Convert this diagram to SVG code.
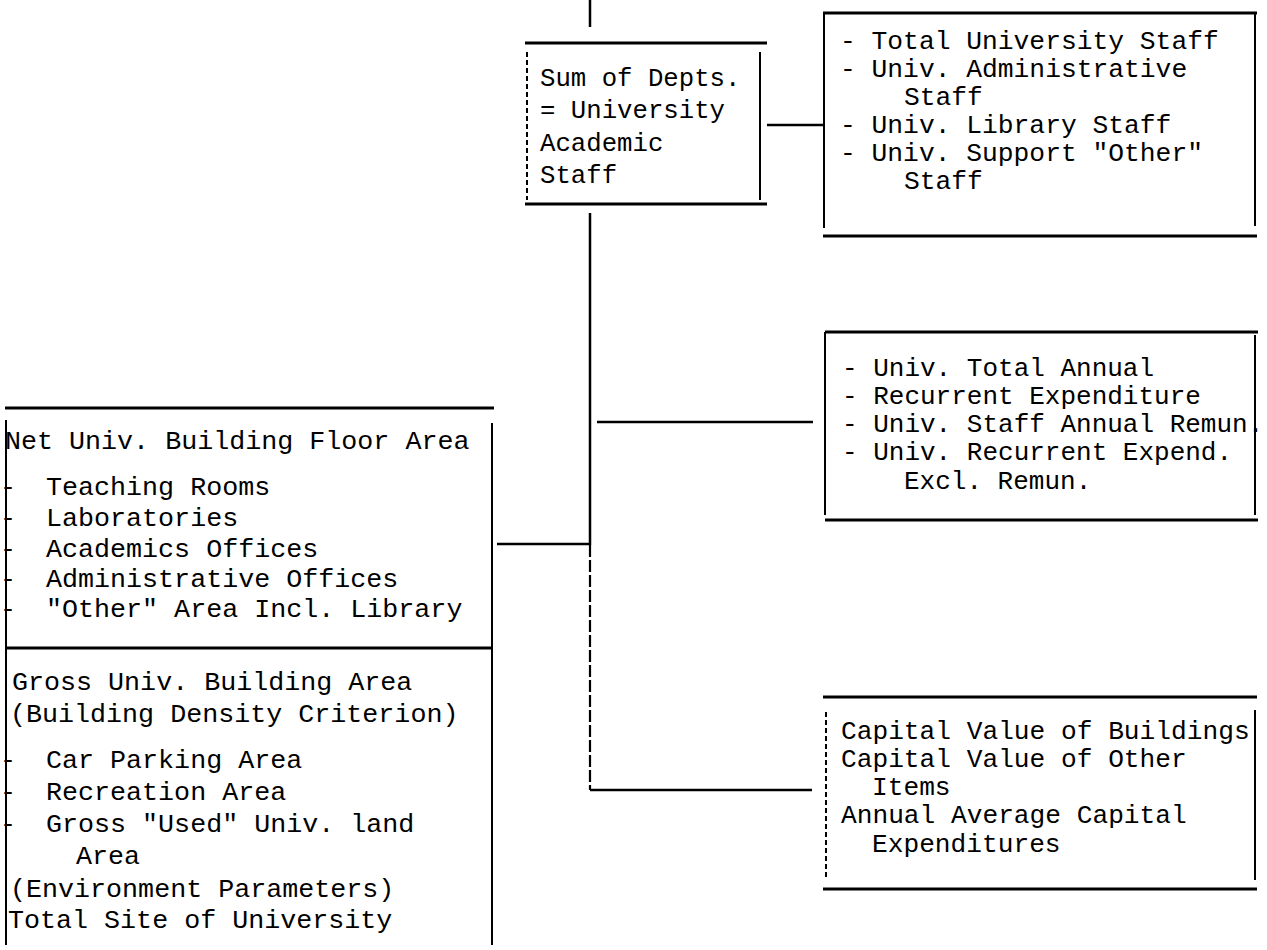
<svg xmlns="http://www.w3.org/2000/svg" width="1267" height="950" viewBox="0 0 1267 950">
<style>
  .bg{fill:#fff}
  .h{stroke:#000;stroke-width:3;fill:none;stroke-linecap:butt}
  .v{stroke:#000;stroke-width:2;fill:none}
  .d{stroke:#000;stroke-width:2;fill:none;stroke-dasharray:5 3}
  .c{stroke:#000;stroke-width:2.5;fill:none}
  .cd{stroke:#000;stroke-width:2.2;fill:none;stroke-dasharray:12 3}
  text{font-family:"Liberation Mono","DejaVu Sans Mono",monospace;fill:#000}
  .t1{font-size:25.7px}
  .t2{font-size:26.3px}
  .t3{font-size:26px}
  .t4{font-size:26.2px}
  .t5{font-size:26.7px}
</style>
<rect class="bg" x="0" y="0" width="1267" height="950"/>

<g id="connectors">
  <line class="c" x1="590" y1="0" x2="590" y2="27"/>
  <line class="c" x1="767" y1="125" x2="823" y2="125"/>
  <line class="c" x1="590" y1="213" x2="590" y2="545"/>
  <line class="cd" x1="590" y1="545" x2="590" y2="790"/>
  <line class="c" x1="597" y1="422" x2="813" y2="422"/>
  <line class="c" x1="497" y1="544" x2="590" y2="544"/>
  <line class="c" x1="590" y1="790" x2="812" y2="790"/>
</g>

<g id="node-academic-staff">
  <line class="h" x1="525" y1="43" x2="767" y2="43"/>
  <line class="h" x1="525" y1="204" x2="767" y2="204"/>
  <line class="d" x1="527" y1="52" x2="527" y2="200"/>
  <line class="v" x1="760" y1="52" x2="760" y2="200"/>
  <text class="t1" x="540" y="86">Sum of Depts.</text>
  <text class="t1" x="540" y="118">= University</text>
  <text class="t1" x="540" y="151">Academic</text>
  <text class="t1" x="540" y="183">Staff</text>
</g>

<g id="node-university-staff">
  <line class="h" x1="823" y1="13" x2="1257" y2="13"/>
  <line class="h" x1="823" y1="236" x2="1257" y2="236"/>
  <line class="v" x1="824" y1="13" x2="824" y2="228"/>
  <line class="v" x1="1255" y1="13" x2="1255" y2="226"/>
  <text class="t2" x="840" y="49">- Total University Staff</text>
  <text class="t2" x="840" y="77">- Univ. Administrative</text>
  <text class="t2" x="904" y="105">Staff</text>
  <text class="t2" x="840" y="133">- Univ. Library Staff</text>
  <text class="t2" x="840" y="161">- Univ. Support "Other"</text>
  <text class="t2" x="904" y="189">Staff</text>
</g>

<g id="node-expenditure">
  <line class="h" x1="825" y1="332" x2="1258" y2="332"/>
  <line class="h" x1="825" y1="520" x2="1258" y2="520"/>
  <line class="v" x1="825" y1="332" x2="825" y2="515"/>
  <line class="v" x1="1255" y1="335" x2="1255" y2="515"/>
  <text class="t3" x="842" y="376">- Univ. Total Annual</text>
  <text class="t3" x="842" y="404">- Recurrent Expenditure</text>
  <text class="t3" x="842" y="432">- Univ. Staff Annual Remun.</text>
  <text class="t3" x="842" y="460">- Univ. Recurrent Expend.</text>
  <text class="t3" x="904" y="489">Excl. Remun.</text>
</g>

<g id="node-capital">
  <line class="h" x1="823" y1="697" x2="1257" y2="697"/>
  <line class="h" x1="823" y1="889" x2="1257" y2="889"/>
  <line class="d" x1="826" y1="712" x2="826" y2="880"/>
  <line class="v" x1="1255" y1="710" x2="1255" y2="880"/>
  <text class="t4" x="841" y="739">Capital Value of Buildings</text>
  <text class="t4" x="841" y="767">Capital Value of Other</text>
  <text class="t4" x="872" y="795">Items</text>
  <text class="t4" x="841" y="823">Annual Average Capital</text>
  <text class="t4" x="872" y="852">Expenditures</text>
</g>

<g id="node-area">
  <line class="h" x1="5" y1="408" x2="494" y2="408"/>
  <line class="h" x1="5" y1="648" x2="492" y2="648"/>
  <line class="v" x1="6" y1="420" x2="6" y2="945"/>
  <line class="v" x1="492" y1="423" x2="492" y2="945"/>
  <text class="t5" x="5" y="449">Net Univ. Building Floor Area</text>
  <text class="t5" x="0" y="495">- <tspan x="46">Teaching Rooms</tspan></text>
  <text class="t5" x="0" y="526">- <tspan x="46">Laboratories</tspan></text>
  <text class="t5" x="0" y="557">- <tspan x="46">Academics Offices</tspan></text>
  <text class="t5" x="0" y="587">- <tspan x="46">Administrative Offices</tspan></text>
  <text class="t5" x="0" y="617">- <tspan x="46">"Other" Area Incl. Library</tspan></text>
  <text class="t5" x="12" y="690">Gross Univ. Building Area</text>
  <text class="t5" x="10" y="722">(Building Density Criterion)</text>
  <text class="t5" x="0" y="768">- <tspan x="46">Car Parking Area</tspan></text>
  <text class="t5" x="0" y="800">- <tspan x="46">Recreation Area</tspan></text>
  <text class="t5" x="0" y="832">- <tspan x="46">Gross "Used" Univ. land</tspan></text>
  <text class="t5" x="76" y="864">Area</text>
  <text class="t5" x="10" y="897">(Environment Parameters)</text>
  <text class="t5" x="8" y="928">Total Site of University</text>
</g>
</svg>
